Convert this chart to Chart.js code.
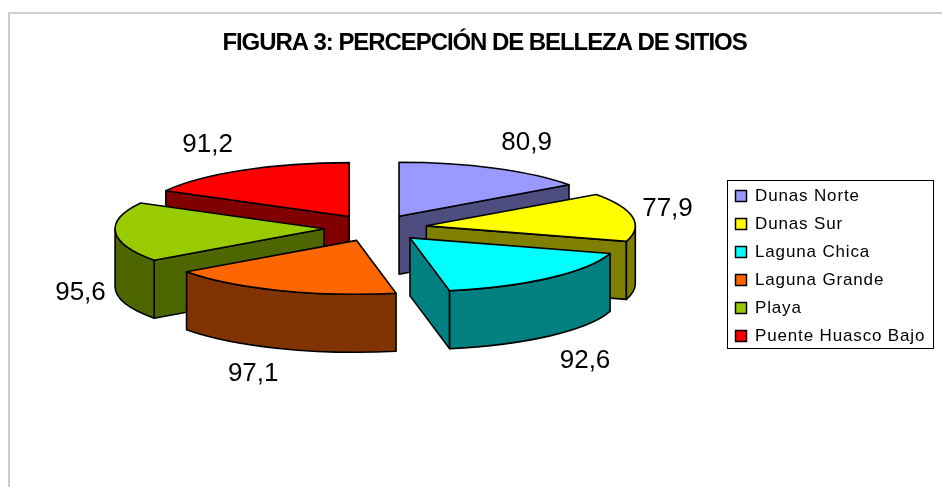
<!DOCTYPE html>
<html>
<head>
<meta charset="utf-8">
<script src="https://cdn.jsdelivr.net/npm/chart.js@4"></script>
<style>
  html, body { margin: 0; padding: 0; background: #fff; overflow: hidden; }
  canvas { display: block; }
</style>
</head>
<body>
<canvas id="chart" width="942" height="487"></canvas>
<script>
const titleText = "FIGURA 3: PERCEPCIÓN DE BELLEZA DE SITIOS";
const sites = ["Dunas Norte", "Dunas Sur", "Laguna Chica", "Laguna Grande", "Playa", "Puente Huasco Bajo"];
const scores = [80.9, 77.9, 92.6, 97.1, 95.6, 91.2];
const topColors = ["#9999FF", "#FFFF00", "#00FFFF", "#FF6600", "#99CC00", "#FF0000"];
const wallColors = ["#4D4D80", "#808000", "#008080", "#803300", "#4D6600", "#800000"];

// Pie seen from above: squash of the circle, wall height, slice separation
const TILT = 0.258;
const DEPTH = 58;
const EXPLODE = 51.5;
const LINE = 1.6;

function apexOf(el) {
  const mid = (el.startAngle + el.endAngle) / 2;
  return {
    x: el.x + Math.cos(mid) * EXPLODE,
    y: el.y + Math.sin(mid) * EXPLODE * TILT,
  };
}

function paint(ctx, fill) {
  ctx.fillStyle = fill;
  ctx.fill();
  ctx.stroke();
}

// Side faces of one slice, only those turned towards the viewer
function drawWalls(ctx, el, color) {
  const a = apexOf(el);
  const r = el.outerRadius;
  const ry = r * TILT;
  const edges = [
    { angle: el.startAngle, normal: el.startAngle - Math.PI / 2 },
    { angle: el.endAngle, normal: el.endAngle + Math.PI / 2 },
  ];
  edges.forEach((edge) => {
    if (Math.sin(edge.normal) <= 0.001) return;
    const px = a.x + Math.cos(edge.angle) * r;
    const py = a.y + Math.sin(edge.angle) * ry;
    ctx.beginPath();
    ctx.moveTo(a.x, a.y);
    ctx.lineTo(px, py);
    ctx.lineTo(px, py + DEPTH);
    ctx.lineTo(a.x, a.y + DEPTH);
    ctx.closePath();
    paint(ctx, color);
  });

  // Rim: the part of the arc on the front half of the ellipse
  const ranges = [[0, Math.PI], [2 * Math.PI, 3 * Math.PI], [-2 * Math.PI, -Math.PI]];
  ranges.forEach(([lo, hi]) => {
    const from = Math.max(el.startAngle, lo);
    const to = Math.min(el.endAngle, hi);
    if (to <= from) return;
    ctx.beginPath();
    ctx.ellipse(a.x, a.y, r, ry, 0, from, to);
    ctx.lineTo(a.x + Math.cos(to) * r, a.y + Math.sin(to) * ry + DEPTH);
    ctx.ellipse(a.x, a.y + DEPTH, r, ry, 0, to, from, true);
    ctx.closePath();
    paint(ctx, color);
  });
}

function drawTop(ctx, el) {
  const a = apexOf(el);
  const r = el.outerRadius;
  ctx.save();
  ctx.translate(a.x, a.y);
  ctx.scale(1, TILT);
  ctx.translate(-el.x, -el.y);
  el.draw(ctx);
  ctx.restore();

  ctx.beginPath();
  ctx.moveTo(a.x, a.y);
  ctx.ellipse(a.x, a.y, r, r * TILT, 0, el.startAngle, el.endAngle);
  ctx.closePath();
  ctx.stroke();
}

function drawValue(ctx, el, value) {
  const a = apexOf(el);
  const r = el.outerRadius;
  const mid = (el.startAngle + el.endAngle) / 2;
  const c = Math.cos(mid);
  const s = Math.sin(mid);
  const gapX = 35 * Math.sign(c) * Math.min(1, Math.abs(c) / 0.5);
  const gapY = 25 * Math.sign(s) * Math.min(1, Math.abs(s) / 0.5);
  const x = a.x + c * r + gapX;
  const y = a.y + s * r * TILT + gapY + (s > 0 ? DEPTH : 0);
  ctx.fillStyle = "#000";
  ctx.font = "26px 'Liberation Sans', Arial, sans-serif";
  ctx.textAlign = "center";
  ctx.textBaseline = "middle";
  ctx.fillText(value.toFixed(1).replace(".", ","), x, y);
}

const pie3d = {
  id: "pie3d",
  beforeInit(chart) {
    // Title and legend text need their own letter spacing
    const spaced = (box, spacing) => {
      const draw = box.draw.bind(box);
      box.draw = (area) => {
        chart.ctx.letterSpacing = spacing;
        draw(area);
        chart.ctx.letterSpacing = "0px";
      };
    };
    spaced(chart.titleBlock, "-1.07px");
    spaced(chart.legend, "0.85px");
  },
  afterLayout(chart) {
    const t = chart.titleBlock;
    t.left = 9;
    t.right = 960;
    t.top = 29;
    t.bottom = t.top + t.height;

    const l = chart.legend;
    l.left = 724.5;
    l.right = 934;
    l.top = 176.5;
    l.bottom = 370;

    // Centre of the pie inside the space left of the legend
    const a = chart.chartArea;
    a.left = 166.5;
    a.right = 584.5;
    a.top = 174;
    a.bottom = 282;
    a.w = a.right - a.left;
    a.h = a.bottom - a.top;
  },
  beforeDraw(chart) {
    const { ctx, width, height } = chart;
    ctx.save();
    ctx.strokeStyle = "#c0c0c0";
    ctx.lineWidth = 1.6;
    ctx.beginPath();
    ctx.moveTo(9, height);
    ctx.lineTo(9, 13);
    ctx.lineTo(width, 13);
    ctx.stroke();
    ctx.restore();
  },
  beforeDatasetDraw(chart, args) {
    const { ctx } = chart;
    const arcs = args.meta.data;
    // Back slices first so that the front ones cover them
    const order = arcs
      .map((el, i) => ({ el, i }))
      .sort((p, q) => apexDepth(p.el) - apexDepth(q.el));
    ctx.save();
    ctx.strokeStyle = "#000";
    ctx.lineWidth = LINE;
    ctx.lineJoin = "round";
    order.forEach(({ el, i }) => {
      drawWalls(ctx, el, wallColors[i]);
      drawTop(ctx, el);
    });
    arcs.forEach((el, i) => drawValue(ctx, el, scores[i]));
    ctx.restore();
    return false;
  },
  afterDraw(chart) {
    // Frame of the legend
    const { ctx } = chart;
    ctx.save();
    ctx.strokeStyle = "#000";
    ctx.lineWidth = 1;
    ctx.strokeRect(727.5, 180.5, 206, 168);
    ctx.restore();
  },
};

function apexDepth(el) {
  return Math.sin((el.startAngle + el.endAngle) / 2);
}

new Chart(document.getElementById("chart"), {
  type: "pie",
  data: {
    labels: sites,
    datasets: [
      {
        data: scores,
        backgroundColor: topColors,
        borderWidth: 0,
        radius: 209,
      },
    ],
  },
  options: {
    responsive: false,
    animation: false,
    plugins: {
      tooltip: { enabled: false },
      title: {
        display: true,
        text: titleText,
        color: "#000",
        padding: 0,
        font: { family: "'Liberation Sans', Arial, sans-serif", size: 24, weight: "bold" },
      },
      legend: {
        position: "right",
        align: "start",
        labels: {
          color: "#000",
          font: { family: "'Liberation Sans', Arial, sans-serif", size: 17 },
          boxWidth: 11,
          boxHeight: 11,
          padding: 11,
          generateLabels(chart) {
            const items = Chart.overrides.pie.plugins.legend.labels.generateLabels(chart);
            return items.map((item) => ({ ...item, strokeStyle: "#000", lineWidth: 1.5 }));
          },
        },
      },
    },
  },
  plugins: [pie3d],
});
</script>
</body>
</html>
